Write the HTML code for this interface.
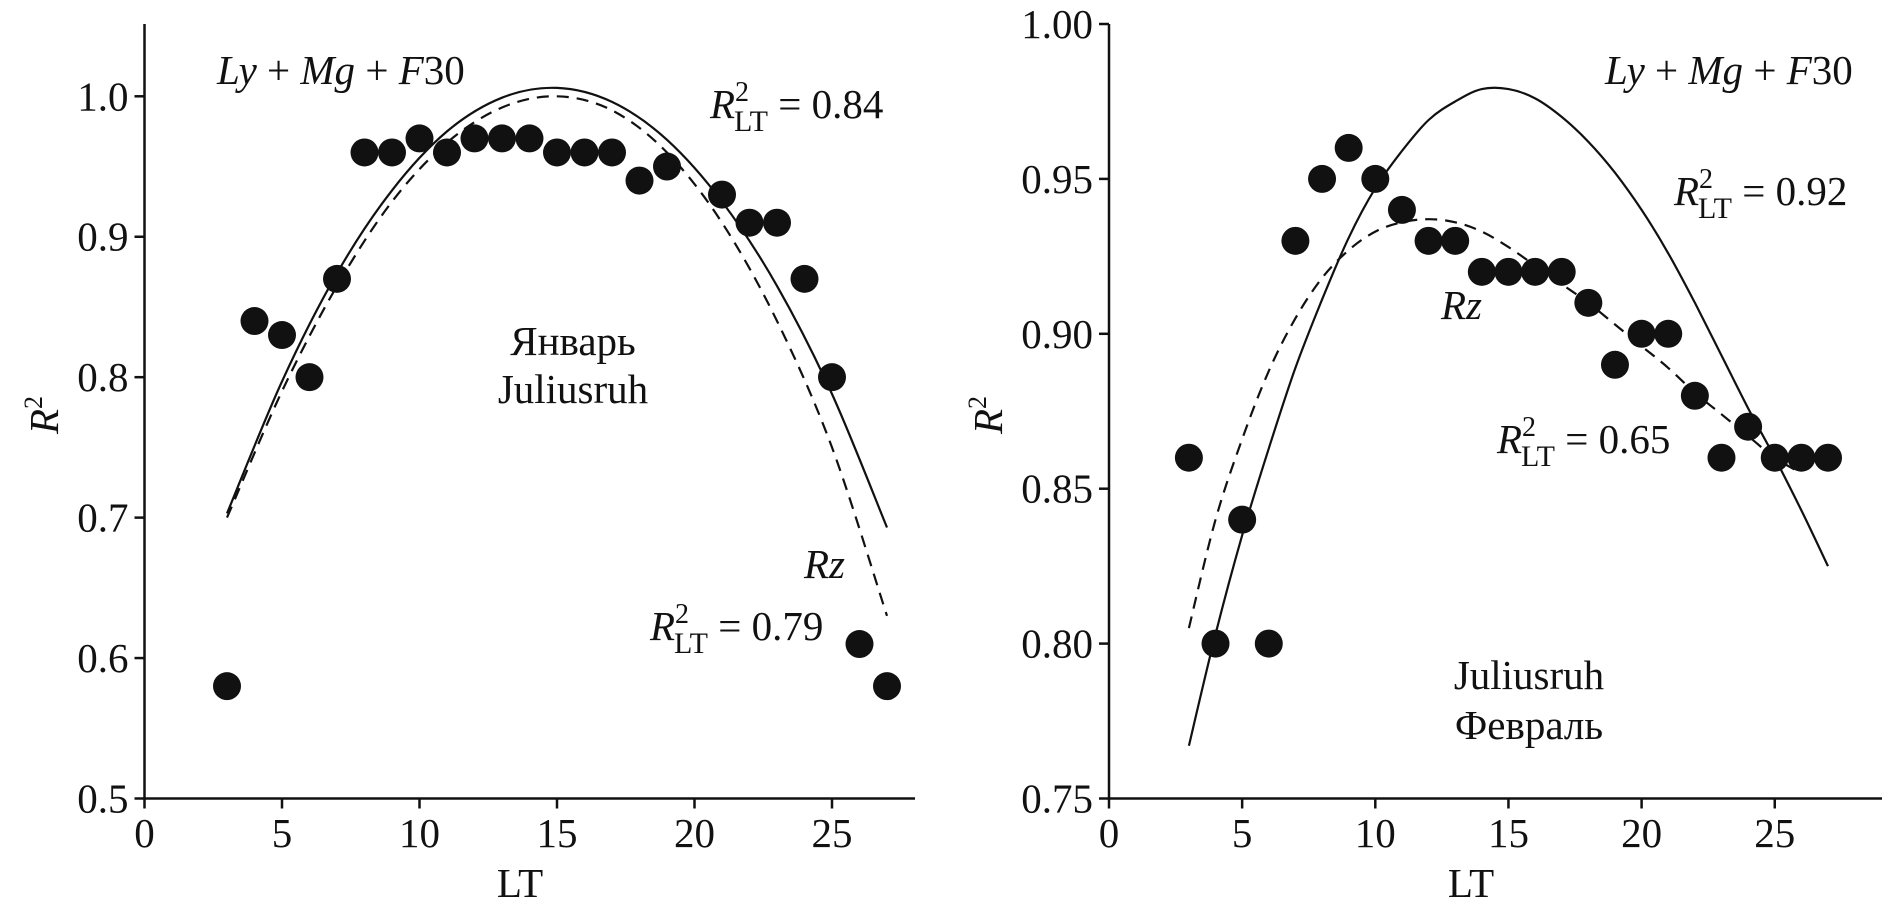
<!DOCTYPE html>
<html><head><meta charset="utf-8">
<style>
html,body{margin:0;padding:0;background:#fff;}
svg{display:block;}
text{font-family:"Liberation Serif","DejaVu Serif",serif;fill:#111;}
</style></head>
<body>
<svg id="chart" width="1888" height="913" viewBox="0 0 1888 913" xmlns="http://www.w3.org/2000/svg"></svg>
<script>
// ----- data: January panel -----
const janLT = [3,4,5,6,7,8,9,10,11,12,13,14,15,16,17,18,19,21,22,23,24,25,26,27];
const janR2 = [0.58,0.84,0.83,0.80,0.87,0.96,0.96,0.97,0.96,0.97,0.97,0.97,0.96,0.96,0.96,0.94,0.95,0.93,0.91,0.91,0.87,0.80,0.61,0.58];
const janFitLT = [3,5,7,9,11,13,15,17,19,21,23,25,27];
const janFitSolid = [0.703,0.797,0.874,0.933,0.975,0.999,1.006,0.996,0.969,0.925,0.865,0.788,0.693];
const janFitDashed = [0.700,0.790,0.865,0.925,0.967,0.992,1.000,0.990,0.960,0.910,0.840,0.750,0.630];
const janYTicks = ["0.5","0.6","0.7","0.8","0.9","1.0"];
// ----- data: February panel -----
const febLT = [3,4,5,6,7,8,9,10,11,12,13,14,15,16,17,18,19,20,21,22,23,24,25,26,27];
const febR2 = [0.86,0.80,0.84,0.80,0.93,0.95,0.96,0.95,0.94,0.93,0.93,0.92,0.92,0.92,0.92,0.91,0.89,0.90,0.90,0.88,0.86,0.87,0.86,0.86,0.86];
const febFitLT = [3,4,5,6,7,8,9,10,11,12,13,14,15,16,17,18,19,20,21,22,23,24,25,26,27];
const febFitSolid = [0.767,0.803,0.835,0.863,0.889,0.911,0.931,0.947,0.959,0.969,0.975,0.979,0.979,0.976,0.970,0.962,0.952,0.940,0.926,0.910,0.893,0.876,0.860,0.843,0.825];
const febDashLT = [3,4,5,6,7,8,9,10,11,12,13,14,15,16,17,18,19,20,21,22,23,24,25,26];
const febFitDashed = [0.805,0.840,0.866,0.888,0.905,0.918,0.927,0.933,0.936,0.937,0.936,0.933,0.928,0.922,0.916,0.910,0.903,0.896,0.889,0.881,0.874,0.867,0.860,0.855];
const febYTicks = ["0.75","0.80","0.85","0.90","0.95","1.00"];
const xTicks = ["0","5","10","15","20","25"];

const NS = "http://www.w3.org/2000/svg";
const svg = document.getElementById('chart');
function mk(tag, attrs, parent){const e=document.createElementNS(NS,tag);for(const k in attrs)e.setAttribute(k,attrs[k]);(parent||svg).appendChild(e);return e;}

function smoothPath(xs, ys){
  let d = "M"+xs[0].toFixed(1)+","+ys[0].toFixed(1);
  for(let i=0;i<xs.length-1;i++){
    const x0=xs[Math.max(0,i-1)],y0=ys[Math.max(0,i-1)],x1=xs[i],y1=ys[i],x2=xs[i+1],y2=ys[i+1],x3=xs[Math.min(xs.length-1,i+2)],y3=ys[Math.min(xs.length-1,i+2)];
    d+=" C"+(x1+(x2-x0)/6).toFixed(1)+","+(y1+(y2-y0)/6).toFixed(1)+" "+(x2-(x3-x1)/6).toFixed(1)+","+(y2-(y3-y1)/6).toFixed(1)+" "+x2.toFixed(1)+","+y2.toFixed(1);
  }
  return d;
}

function panel(cfg){
  const g = mk('g',{});
  
  
  const X = v => cfg.x0 + v*cfg.xUnit;
  const Y = v => cfg.yBottom - (v-cfg.yMin)/(cfg.yMax-cfg.yMin)*(cfg.yBottom-cfg.yTop);
  const ax = mk('path',{d:`M${cfg.x0},${cfg.axisTop} V${cfg.yBottom} H${cfg.axisRight}`,fill:'none',stroke:'#111','stroke-width':2.5},g);
  
  
  xTicks.forEach(t=>{
    const x=X(+t);
    mk('line',{x1:x,y1:cfg.yBottom,x2:x,y2:cfg.yBottom+10,stroke:'#111','stroke-width':2.5},g);
    const tx=mk('text',{x:x,y:847,'font-size':41,'text-anchor':'middle'},g);
    tx.textContent=t;
    
    
  });
  cfg.yTicks.forEach(t=>{
    const y=Y(+t);
    mk('line',{x1:cfg.x0-10,y1:y,x2:cfg.x0,y2:y,stroke:'#111','stroke-width':2.5},g);
    const tx=mk('text',{x:cfg.x0-16,y:y+14,'font-size':41,'text-anchor':'end'},g);
    tx.textContent=t;
    
    
  });
  const s=mk('path',{d:smoothPath(cfg.fitLT.map(X),cfg.solid.map(Y)),fill:'none',stroke:'#111','stroke-width':2.2},g);
  
  
  const dl=mk('path',{d:smoothPath(cfg.dashLT.map(X),cfg.dashed.map(Y)),fill:'none',stroke:'#111','stroke-width':2.2,'stroke-dasharray':'12,8'},g);
  
  
  cfg.lt.forEach((v,i)=>{
    const c=mk('circle',{cx:X(v),cy:Y(cfg.r2[i]),r:14,fill:'#111'},g);
    
    
  });
  const xt=mk('text',{x:cfg.xTitleX,y:897,'font-size':41,'text-anchor':'middle'},g);
  xt.textContent='LT';
  
  
  const yt=mk('text',{x:0,y:0,'font-size':41,'text-anchor':'middle',transform:`translate(${cfg.yTitleX},415) rotate(-90)`},g);
  yt.innerHTML='<tspan font-style="italic">R</tspan><tspan font-size="26" dy="-16">2</tspan>';
  
  
  return g;
}

panel({name:'panel-january',x0:144.5,xUnit:27.5,axisRight:915,axisTop:24,yBottom:798.5,yTop:96.3,yMin:0.5,yMax:1.0,
  yTicks:janYTicks,lt:janLT,r2:janR2,fitLT:janFitLT,solid:janFitSolid,dashLT:janFitLT,dashed:janFitDashed,xTitleX:520,yTitleX:58});
panel({name:'panel-february',x0:1109,xUnit:26.63,axisRight:1882,axisTop:24,yBottom:798.5,yTop:24,yMin:0.75,yMax:1.0,
  yTicks:febYTicks,lt:febLT,r2:febR2,fitLT:febFitLT,solid:febFitSolid,dashLT:febDashLT,dashed:febFitDashed,xTitleX:1471,yTitleX:1002});

function label(name,x,y,html,anchor){
  const t=mk('text',{x:x,y:y,'font-size':41,'text-anchor':anchor||'start'});
  t.innerHTML=html;
  
  
}
const r2lt = v => `<tspan font-style="italic">R</tspan><tspan font-size="28" dy="-17">2</tspan><tspan font-size="30" dx="-15" dy="30">LT</tspan><tspan dy="-13"> = ${v}</tspan>`;
const lmf = '<tspan font-style="italic">Ly</tspan> + <tspan font-style="italic">Mg</tspan> + <tspan font-style="italic">F</tspan>30';
label('model-label-jan',217,84,lmf);
label('r2-solid-jan',710,118,r2lt('0.84'));
label('month-label-jan',573,355,'Январь','middle');
label('station-label-jan',573,403,'Juliusruh','middle');
label('rz-label-jan',804,578,'<tspan font-style="italic">Rz</tspan>');
label('r2-dashed-jan',650,640,r2lt('0.79'));
label('model-label-feb',1605,84,lmf);
label('r2-solid-feb',1674,205,r2lt('0.92'));
label('rz-label-feb',1441,319,'<tspan font-style="italic">Rz</tspan>');
label('r2-dashed-feb',1497,453,r2lt('0.65'));
label('station-label-feb',1529,689,'Juliusruh','middle');
label('month-label-feb',1529,739,'Февраль','middle');
</script>
</body></html>
